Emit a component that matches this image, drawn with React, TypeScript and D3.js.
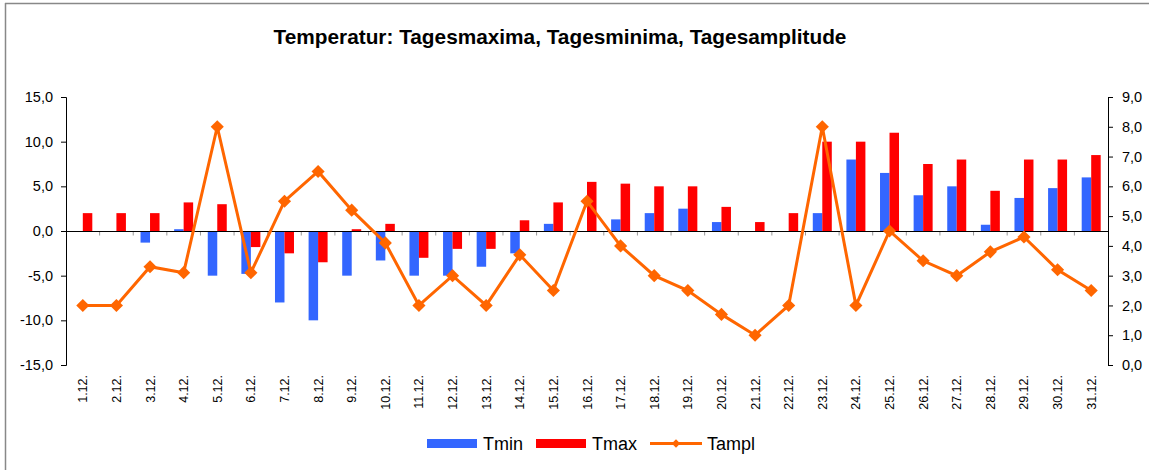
import React, { useRef, useEffect } from 'react';
import * as d3 from 'd3';

// Days of December
const DAYS = [
  '1.12.', '2.12.', '3.12.', '4.12.', '5.12.', '6.12.', '7.12.', '8.12.', '9.12.', '10.12.',
  '11.12.', '12.12.', '13.12.', '14.12.', '15.12.', '16.12.', '17.12.', '18.12.', '19.12.', '20.12.',
  '21.12.', '22.12.', '23.12.', '24.12.', '25.12.', '26.12.', '27.12.', '28.12.', '29.12.', '30.12.', '31.12.'
];

const TMIN = [
  0, 0, -1.3, 0.2, -5, -4.8, -8, -10, -5, -3.3,
  -5, -5, -4, -2.5, 0.8, 0, 1.3, 2, 2.5, 1,
  0, 0, 2, 8, 6.5, 4, 5, 0.7, 3.7, 4.8, 6
];

const TMAX = [
  2, 2, 2, 3.2, 3, -1.8, -2.5, -3.5, 0.2, 0.8,
  -3, -2, -2, 1.2, 3.2, 5.5, 5.3, 5, 5, 2.7,
  1, 2, 10, 10, 11, 7.5, 8, 4.5, 8, 8, 8.5
];

const TAMPL = [
  2, 2, 3.3, 3.1, 8, 3.1, 5.5, 6.5, 5.2, 4.1,
  2, 3, 2, 3.7, 2.5, 5.5, 4, 3, 2.5, 1.7,
  1, 2, 8, 2, 4.5, 3.5, 3, 3.8, 4.3, 3.2, 2.5
];

const LEFT_TICKS = [-15, -10, -5, 0, 5, 10, 15];
const RIGHT_TICKS = [0, 1, 2, 3, 4, 5, 6, 7, 8, 9];

const COLORS = { Tmin: '#3366FF', Tmax: '#FF0000', Tampl: '#FF6600' };
const FONT = '"Liberation Sans", Arial, sans-serif';

const fmt = (v: number) => v.toFixed(1).replace('.', ',');

const App: React.FC = () => {
  const svgRef = useRef<SVGSVGElement>(null);

  useEffect(() => {
    if (!svgRef.current) return;
    const svg = d3.select(svgRef.current);
    svg.selectAll('*').remove();

    const W = 1149, H = 470;
    const plot = { left: 66, right: 1108, top: 97, bottom: 365 };

    // chart frame (only top and left edges are visible)
    svg.append('rect').attr('width', W).attr('height', H).attr('fill', '#fff');
    svg.append('line').attr('x1', 5.5).attr('x2', 5.5).attr('y1', 3).attr('y2', H)
      .attr('stroke', '#888').attr('stroke-width', 1.5);
    svg.append('line').attr('x1', 5).attr('x2', W).attr('y1', 3.5).attr('y2', 3.5)
      .attr('stroke', '#888').attr('stroke-width', 1.5);

    // title
    svg.append('text')
      .attr('x', 560).attr('y', 44)
      .attr('text-anchor', 'middle')
      .attr('font-family', FONT).attr('font-weight', 'bold').attr('font-size', 20.8)
      .text('Temperatur: Tagesmaxima, Tagesminima, Tagesamplitude');

    // scales
    const x0 = d3.scaleBand<string>().domain(DAYS).range([plot.left, plot.right]).padding(0);
    const bw = x0.bandwidth();
    const barW = 9.5;
    const x1 = d3.scaleBand<string>().domain(['Tmin', 'Tmax'])
      .range([bw / 2 - barW, bw / 2 + barW]).padding(0);
    const yL = d3.scaleLinear().domain([-15, 15]).range([plot.bottom, plot.top]);
    const yR = d3.scaleLinear().domain([0, 9]).range([plot.bottom, plot.top]);

    // bars
    const bars = svg.append('g');
    const series: [string, number[]][] = [['Tmin', TMIN], ['Tmax', TMAX]];
    series.forEach(([name, vals]) => {
      bars.selectAll(`rect.${name}`)
        .data(vals)
        .enter()
        .append('rect')
        .attr('class', name)
        .attr('x', (d, i) => (x0(DAYS[i]) as number) + (x1(name) as number))
        .attr('width', x1.bandwidth())
        .attr('y', d => yL(Math.max(0, d)))
        .attr('height', d => Math.abs(yL(d) - yL(0)))
        .attr('fill', (COLORS as any)[name]);
    });

    // zero line with category ticks
    const zeroY = yL(0);
    svg.append('line')
      .attr('x1', plot.left).attr('x2', plot.right)
      .attr('y1', zeroY + 0.5).attr('y2', zeroY + 0.5)
      .attr('stroke', '#000').attr('stroke-width', 1.2);
    svg.append('g').selectAll('line')
      .data(DAYS.slice(1))
      .enter()
      .append('line')
      .attr('x1', d => (x0(d) as number)).attr('x2', d => (x0(d) as number))
      .attr('y1', zeroY + 1).attr('y2', zeroY + 4.5)
      .attr('stroke', '#999');

    // left axis
    const left = svg.append('g').attr('transform', `translate(${plot.left},0)`)
      .call(d3.axisLeft(yL).tickValues(LEFT_TICKS).tickFormat(d => fmt(d as number)).tickSize(5).tickPadding(8));
    left.select('.domain').attr('stroke', '#000');
    left.selectAll('text').attr('font-family', FONT).attr('font-size', 14.5).attr('fill', '#000');

    // right axis
    const right = svg.append('g').attr('transform', `translate(${plot.right},0)`)
      .call(d3.axisRight(yR).tickValues(RIGHT_TICKS).tickFormat(d => fmt(d as number)).tickSize(5).tickPadding(9));
    right.select('.domain').attr('stroke', '#000');
    right.selectAll('text').attr('font-family', FONT).attr('font-size', 14.5).attr('fill', '#000');

    // category labels (rotated)
    svg.append('g').selectAll('text')
      .data(DAYS)
      .enter()
      .append('text')
      .attr('transform', d => `translate(${(x0(d) as number) + bw / 2 + 4.5},375) rotate(-90)`)
      .attr('text-anchor', 'end')
      .attr('font-family', FONT).attr('font-size', 12.5)
      .text(d => d);

    // amplitude line
    const cx = (i: number) => (x0(DAYS[i]) as number) + bw / 2;
    const line = d3.line<number>()
      .x((d, i) => cx(i))
      .y(d => yR(d));
    svg.append('path')
      .datum(TAMPL)
      .attr('d', line)
      .attr('fill', 'none')
      .attr('stroke', COLORS.Tampl)
      .attr('stroke-width', 3);
    const diamond = d3.symbol().type(d3.symbolDiamond2).size(110);
    svg.append('g').selectAll('path')
      .data(TAMPL)
      .enter()
      .append('path')
      .attr('transform', (d, i) => `translate(${cx(i)},${yR(d)})`)
      .attr('d', diamond)
      .attr('fill', COLORS.Tampl);

    // legend
    const lg = svg.append('g').attr('font-family', FONT).attr('font-size', 18);
    lg.append('rect').attr('x', 427).attr('y', 439).attr('width', 50).attr('height', 9).attr('fill', COLORS.Tmin);
    lg.append('text').attr('x', 483).attr('y', 450).text('Tmin');
    lg.append('rect').attr('x', 536).attr('y', 439).attr('width', 50).attr('height', 9).attr('fill', COLORS.Tmax);
    lg.append('text').attr('x', 592).attr('y', 450).text('Tmax');
    lg.append('line').attr('x1', 650).attr('x2', 702).attr('y1', 443.5).attr('y2', 443.5)
      .attr('stroke', COLORS.Tampl).attr('stroke-width', 3);
    lg.append('path').attr('transform', 'translate(676,443.5)')
      .attr('d', d3.symbol().type(d3.symbolDiamond2).size(45)).attr('fill', COLORS.Tampl);
    lg.append('text').attr('x', 707).attr('y', 450).text('Tampl');
  }, []);

  return (
    <svg
      ref={svgRef}
      width={1149}
      height={470}
      style={{ position: 'absolute', left: 0, top: 0 }}
    />
  );
};

export default App;
